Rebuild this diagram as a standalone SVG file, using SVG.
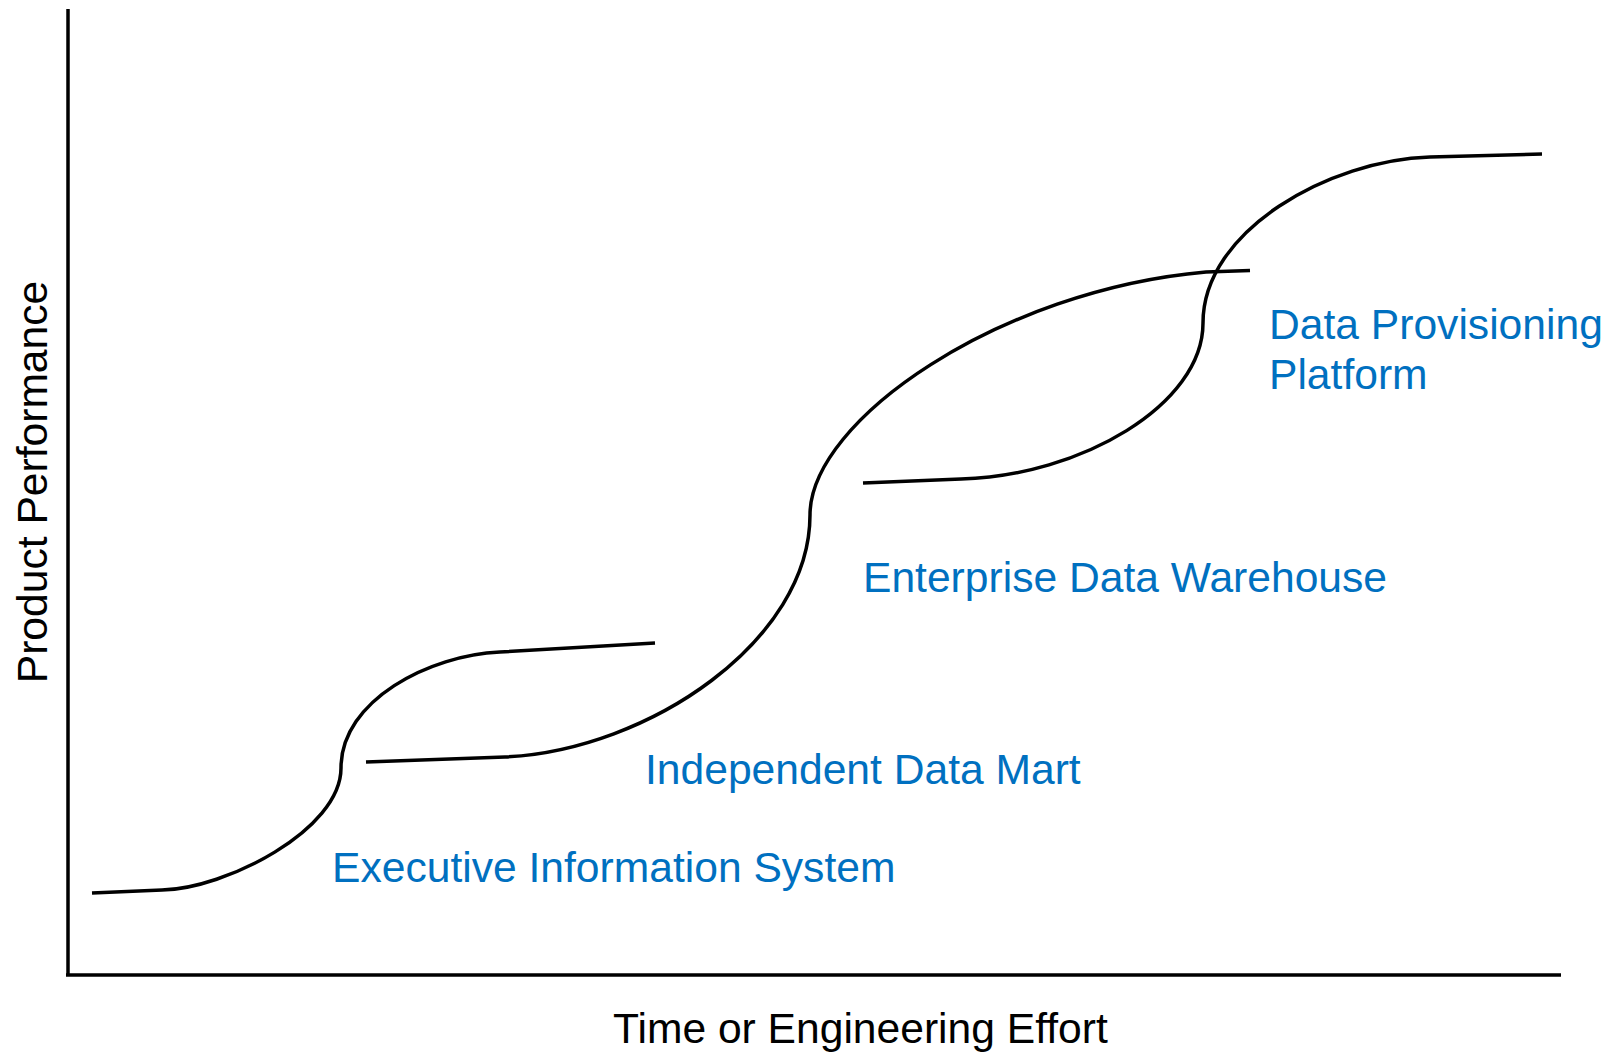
<svg xmlns="http://www.w3.org/2000/svg" width="1616" height="1052" viewBox="0 0 1616 1052">
<style>
.axis{stroke:#000;stroke-width:3.5;fill:none}
.curve{stroke:#000;stroke-width:3.5;fill:none;stroke-linecap:butt}
.lbl{font-family:"Liberation Sans",Arial,sans-serif;font-size:42.6px;fill:#0070C0}
.ax{font-family:"Liberation Sans",Arial,sans-serif;font-size:42.6px;fill:#000}
</style>
<rect width="1616" height="1052" fill="#fff"/>
<g id="axes">
<line class="axis" x1="68" y1="9" x2="68" y2="976"/>
<line class="axis" x1="66" y1="975" x2="1561" y2="975"/>
<text class="ax" transform="translate(47,482) rotate(-90)" text-anchor="middle">Product Performance</text>
<text class="ax" x="613" y="1043">Time or Engineering Effort</text>
</g>
<g id="connectors">
<path id="curve-eis" class="curve" d="M92,893 L162,890 C225,889 341,830 341,768 C341,700 430,655 500,652 L655,643"/>
<path id="curve-idm" class="curve" d="M366,762 L505,757 C650,750 810,640 810,515 C810,420 1000,290 1206,272 L1250,270.5"/>
<path id="curve-edw" class="curve" d="M863,483 L961,479 C1080,476 1203,405 1203,323 C1203,230 1330,160 1430,157 L1542,154"/>
</g>
<g id="node-eis"><text class="lbl" x="332" y="882">Executive Information System</text></g>
<g id="node-idm"><text class="lbl" x="645" y="784">Independent Data Mart</text></g>
<g id="node-edw"><text class="lbl" x="863" y="592">Enterprise Data Warehouse</text></g>
<g id="node-dpp"><text class="lbl" x="1269" y="339">Data Provisioning</text><text class="lbl" x="1269" y="389">Platform</text></g>
</svg>
